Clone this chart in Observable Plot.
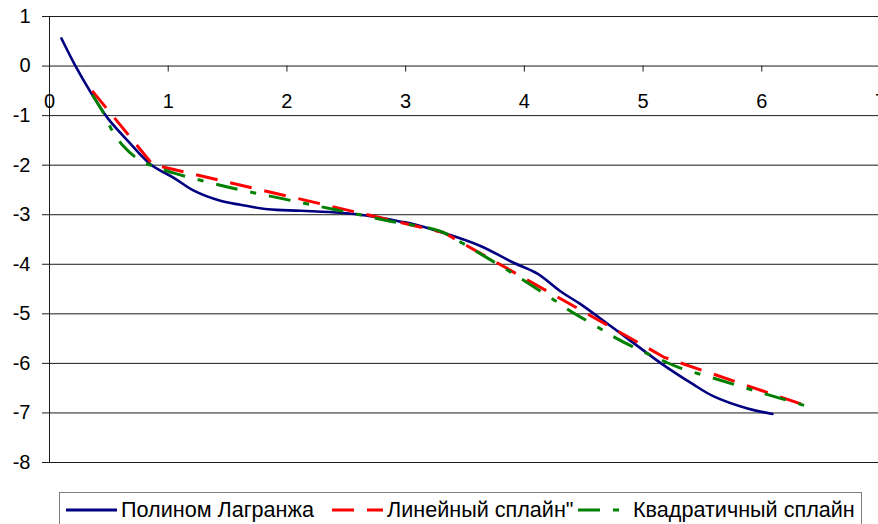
<!DOCTYPE html>
<html>
<head>
<meta charset="utf-8">
<script src="https://cdn.jsdelivr.net/npm/d3@7"></script>
<script src="https://cdn.jsdelivr.net/npm/@observablehq/plot@0.6"></script>
<style>
  html, body { margin: 0; padding: 0; background: #fff; overflow: hidden; }
  #wrap { position: relative; width: 878px; height: 524px; font-family: "Liberation Sans", Arial, sans-serif; color: #000; }
  #legend { position: absolute; left: 59px; top: 492px; width: 803px; height: 40px; border: 1px solid #808080; box-sizing: border-box; background: #fff; }
  .item { position: absolute; top: 0; height: 34px; display: flex; align-items: center; font-size: 21.6px; white-space: nowrap; }
  .item svg { display: block; }
</style>
</head>
<body>
<div id="wrap"></div>
<script>
// ---- data ----
const xTicks = [0, 1, 2, 3, 4, 5, 6, 7];
const yTicks = [1, 0, -1, -2, -3, -4, -5, -6, -7, -8];

const seriesNames = ["Полином Лагранжа", "Линейный сплайн\"", "Квадратичный сплайн"];

const lagX = [0.10, 0.21, 0.35, 0.49, 0.66, 0.85, 1.05, 1.22, 1.44, 1.61, 1.84, 2.12, 2.45, 2.68, 2.94, 3.07, 3.35, 3.63, 3.91, 4.11, 4.30, 4.47, 4.70, 4.87, 5.17, 5.42, 5.59, 5.88, 6.09];
const lagY = [0.56, 0.04, -0.54, -1.05, -1.51, -1.98, -2.26, -2.52, -2.72, -2.80, -2.89, -2.92, -2.96, -3.02, -3.13, -3.19, -3.39, -3.63, -3.97, -4.19, -4.54, -4.80, -5.20, -5.50, -6.03, -6.42, -6.66, -6.91, -7.02];

const linX = [0.36, 0.87, 3.32, 5.18, 6.43];
const linY = [-0.50, -1.99, -3.36, -5.88, -6.90];

const quadX = [0.36, 0.46, 0.53, 0.62, 0.73, 0.85, 1.05, 1.50, 1.97, 2.41, 2.87, 3.29, 3.46, 3.61, 3.86, 3.98, 4.25, 4.36, 4.64, 4.78, 4.92, 5.17, 5.31, 5.61, 6.05, 6.43];
const quadY = [-0.58, -0.97, -1.31, -1.61, -1.85, -2.00, -2.16, -2.44, -2.68, -2.90, -3.13, -3.33, -3.55, -3.76, -4.12, -4.30, -4.72, -4.90, -5.30, -5.50, -5.67, -5.95, -6.09, -6.31, -6.63, -6.90];

const colors = ["#000080", "#ff0000", "#008000"];
const dashes = [null, "22,13", "22,13,6,13"];

// ---- build ----
const lag = lagX.map((x, i) => ({x, y: lagY[i]}));
const lin = linX.map((x, i) => ({x, y: linY[i]}));
const quad = quadX.map((x, i) => ({x, y: quadY[i]}));

const chart = Plot.plot({
  width: 878,
  height: 480,
  marginTop: 16,
  marginBottom: 18,
  marginLeft: 49,
  marginRight: 0,
  style: {fontFamily: "'Liberation Sans', Arial, sans-serif", fontSize: "20px", background: "#fff", color: "#000", overflow: "visible"},
  x: {domain: [0, 7], range: [49, 880], axis: null},
  y: {domain: [-8, 1], axis: null},
  marks: [
    Plot.ruleY(yTicks, {stroke: "#1a1a1a", strokeWidth: 1}),
    Plot.ruleX([0], {y1: -8, y2: 1, stroke: "#1a1a1a"}),
    Plot.ruleX(xTicks.slice(1), {x: d => d, y1: 0, y2: 0, insetBottom: -6, stroke: "#1a1a1a"}),
    Plot.axisY({ticks: yTicks, tickSize: 7, tickPadding: 12, tickFormat: d => String(d), label: null, fontSize: 20, stroke: "#1a1a1a"}),
    Plot.text(xTicks, {x: d => d, y: 0, dy: 36, text: d => String(d), fontSize: 20, fill: "#000"}),
    Plot.line(lag, {x: "x", y: "y", stroke: colors[0], strokeWidth: 2.6, curve: "catmull-rom"}),
    Plot.line(lin, {x: "x", y: "y", stroke: colors[1], strokeWidth: 3, strokeDasharray: dashes[1], strokeLinecap: "butt"}),
    Plot.line(quad, {x: "x", y: "y", stroke: colors[2], strokeWidth: 3, strokeDasharray: dashes[2], strokeLinecap: "butt", curve: "catmull-rom"})
  ]
});

const wrap = document.getElementById("wrap");
wrap.appendChild(chart);

// legend
const legend = document.createElement("div");
legend.id = "legend";
const lefts = [6, 272, 518];
seriesNames.forEach((name, i) => {
  const it = document.createElement("div");
  it.className = "item";
  it.style.left = lefts[i] + "px";
  const s = d3.create("svg").attr("width", 55).attr("height", 10);
  s.append("line").attr("x1", 0).attr("x2", 51).attr("y1", 5).attr("y2", 5)
    .attr("stroke", colors[i]).attr("stroke-width", 3)
    .attr("stroke-dasharray", dashes[i]);
  it.appendChild(s.node());
  const t = document.createElement("span");
  t.textContent = name;
  it.appendChild(t);
  legend.appendChild(it);
});
wrap.appendChild(legend);
</script>
</body>
</html>
